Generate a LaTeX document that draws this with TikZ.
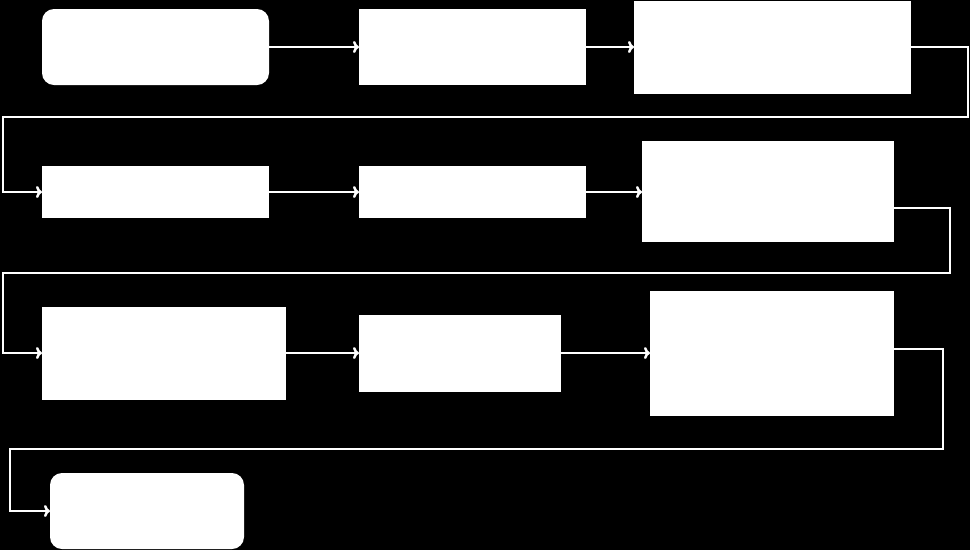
\documentclass[tikz,border=0pt]{standalone}
\usetikzlibrary{arrows.meta}
\begin{document}
\begin{tikzpicture}[x=1pt,y=-1pt,
  box/.style={fill=white,draw=none,inner sep=0},
  conn/.style={draw=white,line width=2.5pt,-{To[length=6pt,width=12pt]}}]
\fill[black] (0,0) rectangle (970,550);
\useasboundingbox (0,0) rectangle (970,550);
\fill[white,rounded corners=12pt] (42,9) rectangle (269,85); \coordinate (A) at (269,47);
\fill[white] (359,9) rectangle (586,85); \coordinate (Bi) at (359,47); \coordinate (Bo) at (586,47);
\fill[white] (634,1) rectangle (911,94); \coordinate (Ci) at (634,47); \coordinate (Co) at (911,47);
\fill[white] (42,166) rectangle (269,218); \coordinate (Di) at (42,192); \coordinate (Do) at (269,192);
\fill[white] (359,166) rectangle (586,218); \coordinate (Ei) at (359,192); \coordinate (Eo) at (586,192);
\fill[white] (642,141) rectangle (894,242); \coordinate (Fi) at (642,192); \coordinate (Fo) at (894,208);
\fill[white] (42,307) rectangle (286,400); \coordinate (Gi) at (42,353); \coordinate (Go) at (286,353);
\fill[white] (359,315) rectangle (561,392); \coordinate (Hi) at (359,353); \coordinate (Ho) at (561,353);
\fill[white] (650,291) rectangle (894,416); \coordinate (Ii) at (650,353); \coordinate (Io) at (894,349);
\fill[white,rounded corners=12pt] (50,473) rectangle (244,549); \coordinate (Ji) at (50,511);
\draw[conn] (A) -- (Bi);
\draw[conn] (Bo) -- (Ci);
\draw[conn] (Co) -- (968,47) -- (968,117) -- (3,117) -- (3,192) -- (Di);
\draw[conn] (Do) -- (Ei);
\draw[conn] (Eo) -- (Fi);
\draw[conn] (Fo) -- (950,208) -- (950,273) -- (3,273) -- (3,353) -- (Gi);
\draw[conn] (Go) -- (Hi);
\draw[conn] (Ho) -- (Ii);
\draw[conn] (Io) -- (943,349) -- (943,449) -- (10,449) -- (10,511) -- (Ji);
\end{tikzpicture}
\end{document}
